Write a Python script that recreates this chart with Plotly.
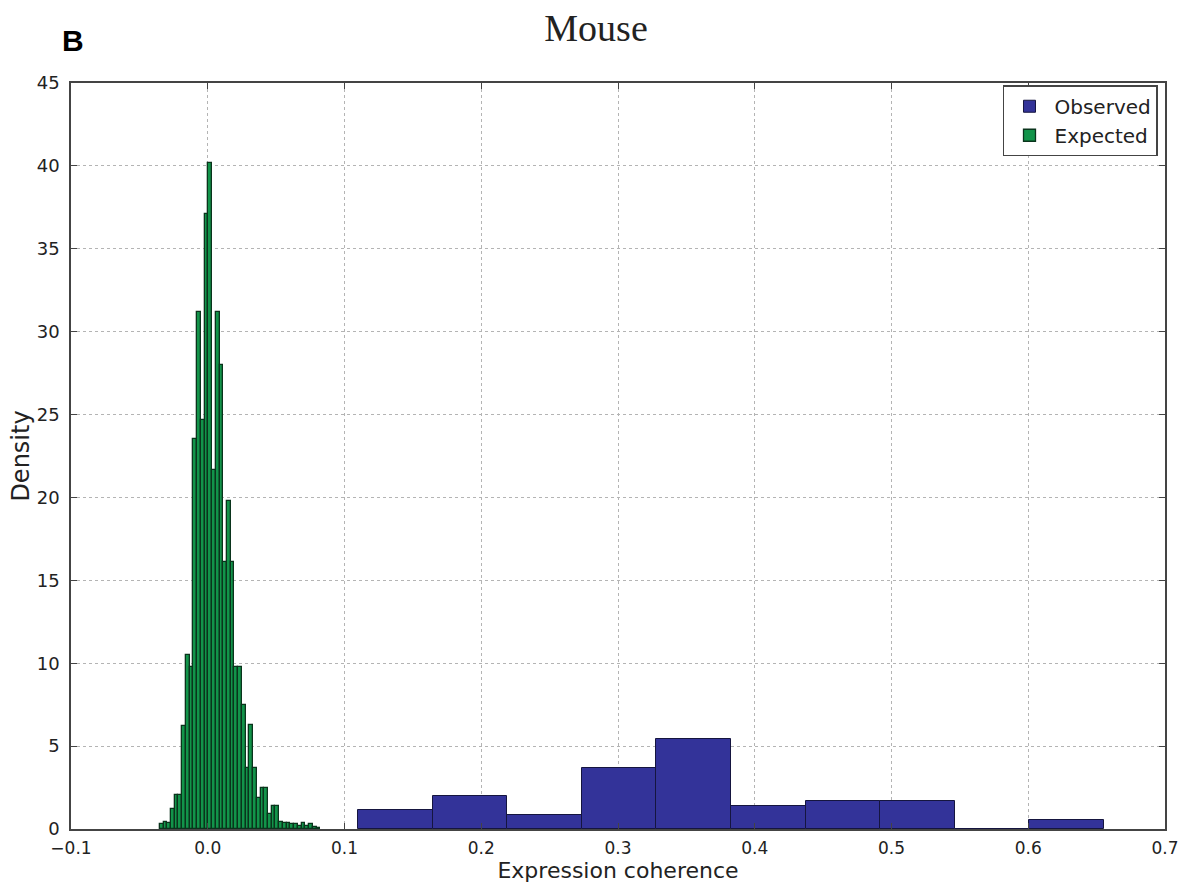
import numpy as np
import plotly.graph_objects as go

# Expected (null) distribution: narrow histogram bins
expected_start = -0.03505
expected_width = 0.002728
expected_density = [
    0.3, 0.42, 0.35, 1.2, 2.05, 2.05, 6.2, 10.5, 9.8, 23.5,
    31.2, 24.7, 37.1, 40.2, 21.65, 31.2, 28.0, 16.1, 19.8, 16.1,
    9.8, 9.8, 7.5, 3.7, 6.3, 3.7, 1.9, 2.5, 2.45, 0.9,
    1.4, 1.4, 0.44, 0.38, 0.35, 0.3, 0.3, 0.2, 0.38, 0.2,
    0.3, 0.1, 0.05,
]

# Observed distribution: wide histogram bins
observed_start = 0.1099
observed_width = 0.05455
observed_density = [1.15, 1.99, 0.86, 3.66, 5.41, 1.41, 1.69, 1.69, 0.0, 0.54]

x_ticks = [-0.1, 0.0, 0.1, 0.2, 0.3, 0.4, 0.5, 0.6, 0.7]
y_ticks = [0, 5, 10, 15, 20, 25, 30, 35, 40, 45]

exp_centers = expected_start + expected_width * (np.arange(len(expected_density)) + 0.5)
obs_centers = observed_start + observed_width * (np.arange(len(observed_density)) + 0.5)

fig = go.Figure()
fig.add_trace(go.Bar(
    x=obs_centers, y=observed_density, width=observed_width,
    name="Observed",
    marker=dict(color="#333399", line=dict(color="#15153f", width=1)),
))
fig.add_trace(go.Bar(
    x=exp_centers, y=expected_density, width=expected_width,
    name="Expected",
    marker=dict(color="#12944a", line=dict(color="#0a341c", width=1.3)),
))

tick_font = dict(family="DejaVu Sans", size=17, color="#222")
grid = dict(showgrid=True, gridcolor="#b4b4b4", griddash="dot", gridwidth=1)

fig.update_layout(
    width=1185, height=883,
    margin=dict(l=71, r=20, t=83, b=54, autoexpand=False),
    paper_bgcolor="white", plot_bgcolor="white",
    barmode="overlay", bargap=0,
    showlegend=True,
    legend=dict(
        x=0.9936, y=0.997, xanchor="right", yanchor="top",
        bordercolor="#444", borderwidth=1.5, bgcolor="white",
        font=dict(family="DejaVu Sans", size=20, color="#222"),
        itemwidth=40, tracegroupgap=0,
    ),
    title=dict(
        text="Mouse", x=0.503, xref="container", xanchor="center",
        y=0.969, yref="container", yanchor="middle",
        font=dict(family="Liberation Serif", size=38, color="#222"),
    ),
    annotations=[
        dict(text="<b>B</b>", x=(73 - 71) / 1094, y=1 + (83 - 40) / 746,
             xref="paper", yref="paper", xanchor="center", yanchor="middle",
             showarrow=False, font=dict(family="Liberation Sans", size=30, color="black")),
    ],
)

fig.update_xaxes(
    range=[-0.1, 0.7], tickvals=x_ticks,
    ticktext=[f"{v:.1f}".replace("-", "\u2212") for v in x_ticks],
    ticks="inside", ticklen=6, tickcolor="#444",
    showline=True, linecolor="#444", linewidth=1.5, mirror="ticks",
    tickfont=tick_font, zeroline=False, automargin=False,
    ticklabelstandoff=3,
    title=dict(text="Expression coherence", standoff=0,
               font=dict(family="DejaVu Sans", size=22, color="#222")),
    **grid,
)
fig.update_yaxes(
    range=[0, 45], tickvals=y_ticks,
    ticks="inside", ticklen=6, tickcolor="#444",
    showline=True, linecolor="#444", linewidth=1.5, mirror="ticks",
    tickfont=dict(family="DejaVu Sans", size=18, color="#222"), zeroline=False,
    ticklabelstandoff=6, automargin=False,
    title=dict(text="Density", standoff=0,
               font=dict(family="DejaVu Sans", size=24, color="#222")),
    **grid,
)

fig.write_html("out.html")
